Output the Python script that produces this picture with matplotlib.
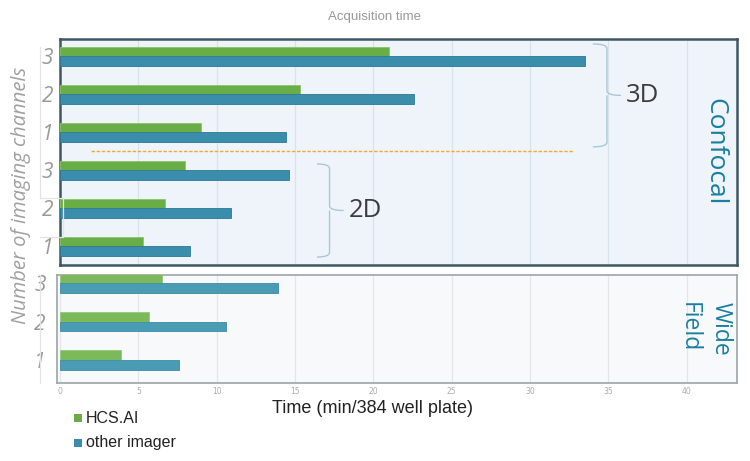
import matplotlib
matplotlib.use("Agg")
import matplotlib.pyplot as plt
from matplotlib.path import Path
from matplotlib.patches import PathPatch, Rectangle
from matplotlib.lines import Line2D
import numpy as np

# ---- data ----
channel_labels = ["1", "2", "3"]
# Confocal: 2D (channels 1..3) then 3D (channels 1..3), bottom to top
confocal_hcs = [5.3, 6.7, 8.0, 9.0, 15.3, 21.0]
confocal_other = [8.3, 10.9, 14.6, 14.4, 22.6, 33.5]
# Wide field (channels 1..3)
wide_hcs = [3.9, 5.7, 6.5]
wide_other = [7.6, 10.6, 13.9]
xticks = [0, 5, 10, 15, 20, 25, 30, 35, 40]
series_names = ["HCS.AI", "other imager"]

GREEN = "#68ad45"
BLUE = "#3a8dab"
GREEN2 = "#7bb95b"
BLUE2 = "#4a9bb4"

fig = plt.figure(figsize=(7.5, 4.61), dpi=100)
W, H = 750, 461

def fx(px):
    return px / W

def fy(py):
    return 1 - py / H

ax1 = fig.add_axes([fx(60), fy(265), fx(737) - fx(60), fy(39) - fy(265)])
ax2 = fig.add_axes([fx(57), fy(383), fx(737) - fx(57), fy(275) - fy(383)])

bh = 0.25
# top panel
pos1 = np.arange(len(confocal_hcs))
ax1.set_facecolor("#eef4fa")
ax1.barh(pos1 + bh / 2, confocal_hcs, height=bh, color=GREEN, edgecolor="#8cc46a", linewidth=0.6, zorder=3)
ax1.barh(pos1 - bh / 2, confocal_other, height=bh, color=BLUE, edgecolor="#2c7896", linewidth=0.6, zorder=3)
ax1.set_xlim(0, 43.2)
ax1.set_ylim(-0.5, 5.45)
ax1.set_yticks(pos1)
ax1.set_yticklabels(channel_labels * 2)
ax1.set_xticks(xticks)
ax1.tick_params(axis="x", length=0, labelbottom=False)
ax1.tick_params(axis="y", length=0, pad=5)
ax1.grid(axis="x", color="#d9e3ec", linewidth=0.9, zorder=0)
for s in ax1.spines.values():
    s.set_color("#3d5863")
    s.set_linewidth(1.8)

# dashed separator between 2D and 3D
ax1.hlines(2.5, 2.0, 32.8, colors="#f2a93a", linestyles=(0, (2.5, 1.2)), linewidth=1.0, zorder=4)

# bottom panel
pos2 = np.arange(len(wide_hcs))
ax2.set_facecolor("#f8f9fb")
ax2.barh(pos2 + bh / 2, wide_hcs, height=bh, color=GREEN2, edgecolor="#95c97a", linewidth=0.6, zorder=3)
ax2.barh(pos2 - bh / 2, wide_other, height=bh, color=BLUE2, edgecolor="#3d8ca6", linewidth=0.6, zorder=3)
ax2.set_xlim(-0.19, 43.2)
ax2.set_ylim(-0.6, 2.21)
ax2.set_yticks(pos2)
ax2.set_yticklabels(channel_labels)
ax2.set_xticks(xticks)
ax2.set_xticklabels([str(t) for t in xticks])
ax2.tick_params(axis="x", length=0, pad=3, labelsize=5.5, labelcolor="#aaaaaa")
ax2.tick_params(axis="y", length=0, pad=8)
ax2.grid(axis="x", color="#e4e6e8", linewidth=0.9, zorder=0)
for s in ax2.spines.values():
    s.set_color("#9aa6a8")
    s.set_linewidth(1.2)

for ax in (ax1, ax2):
    for lab in ax.get_yticklabels():
        lab.set_fontstyle("italic")
        lab.set_color("#9a9a9a")
        lab.set_fontsize(15)
        lab.set_family("Open Sans")

# braces
def brace(ax, x0, x1, xtip, ylo, yhi, r=0.12):
    ym = (ylo + yhi) / 2
    verts = [(x0, yhi), (x1, yhi), (x1, yhi - r),
             (x1, ym + r), (x1, ym), (xtip, ym),
             (x1, ym), (x1, ym - r),
             (x1, ylo + r), (x1, ylo), (x0, ylo)]
    codes = [Path.MOVETO, Path.CURVE3, Path.CURVE3,
             Path.LINETO, Path.CURVE3, Path.CURVE3,
             Path.MOVETO, Path.LINETO,
             Path.LINETO, Path.CURVE3, Path.CURVE3]
    ax.add_patch(PathPatch(Path(verts, codes), facecolor="none", edgecolor="#a9c8d5", linewidth=1.0, zorder=5, clip_on=False))

brace(ax1, 34.0, 34.9, 35.8, 2.61, 5.32)
brace(ax1, 16.4, 17.2, 18.1, -0.29, 2.16)
ax1.text(36.1, 3.96, "3D", fontsize=18.5, color="#3c3c3c", ha="left", va="center", family="Open Sans")
ax1.text(18.4, 0.94, "2D", fontsize=18.5, color="#3c3c3c", ha="left", va="center", family="Open Sans")

ax1.text(0.9675, 0.5, "Confocal", transform=ax1.transAxes, rotation=-90, fontsize=19,
         color="#1a7fa0", ha="center", va="center", family="Open Sans")
ax2.text(0.952, 0.5, "Wide\nField", transform=ax2.transAxes, rotation=-90, fontsize=16.5,
         color="#1a7fa0", ha="center", va="center", family="Open Sans", multialignment="left",
         linespacing=1.45)

# titles / labels
fig.text(fx(374), fy(17), "Acquisition time", fontsize=9.5, color="#999999", ha="center", va="center",
         family="Liberation Sans")
fig.text(fx(373), fy(408), "Time (min/384 well plate)", fontsize=13, color="#222222", ha="center",
         va="center", family="Liberation Sans")
fig.text(fx(21), fy(195), "Number of imaging channels", fontsize=14.5, color="#a0a0a0", rotation=90,
         ha="center", va="center", fontstyle="italic", family="Open Sans")

# legend
for i, (name, col) in enumerate(zip(series_names, [GREEN, BLUE])):
    yc = 418 + i * 24.5
    fig.patches.append(Rectangle((fx(74), fy(yc + 4)), fx(8), fy(yc - 4) - fy(yc + 4),
                                 transform=fig.transFigure, facecolor=col, edgecolor="none"))
    fig.text(fx(86), fy(yc), name, fontsize=11.5, color="#222222", ha="left", va="center",
             family="Liberation Sans")

# faint guide lines at left
lc = "#e2e4e6"
for (xa, ya, xb, yb) in [(40, 47, 40, 198), (40, 198, 63, 198), (63, 198, 63, 237),
                         (40, 237, 62, 237), (40, 275, 40, 383)]:
    fig.add_artist(Line2D([fx(xa), fx(xb)], [fy(ya), fy(yb)], transform=fig.transFigure,
                          color=lc, linewidth=0.9))

fig.savefig("out.png", dpi=100)
